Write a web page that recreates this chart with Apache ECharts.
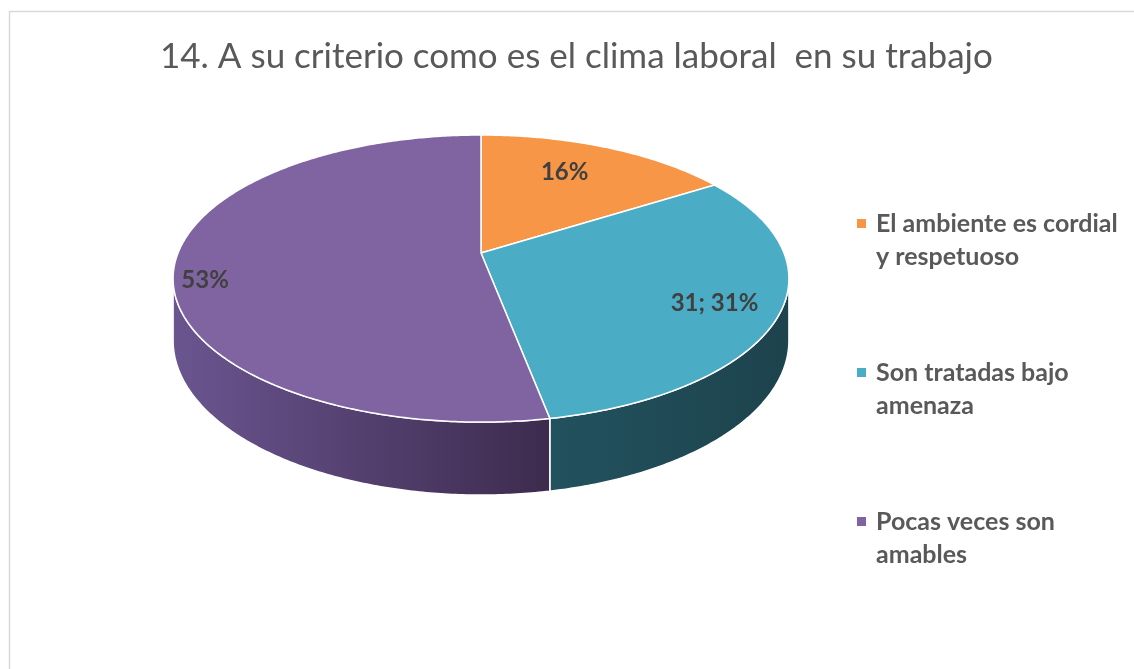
<!DOCTYPE html>
<html><head><meta charset="utf-8">
<script src="https://cdn.jsdelivr.net/npm/echarts@6/dist/echarts.min.js"></script>
<style>html,body{margin:0;padding:0;background:#fff}#c{width:1134px;height:669px}</style>
</head><body><div id="c"></div>
<script>
// ---- data ----
const titleText = '14. A su criterio como es el clima laboral  en su trabajo';
const categories = ['El ambiente es cordial\ny respetuoso', 'Son tratadas bajo\namenaza', 'Pocas veces son\namables'];
const values = [16, 31, 53];
const showValueInLabel = [false, true, false];

// ---- styles ----
const topColors = ['#F79646', '#4BACC6', '#8064A2'];
const sideColors = [['#b86a2c', '#8a4e1f'], ['#22525e', '#1d434d'], ['#6b5590', '#3d2b4e']];
const labelRadius = [0.72, 0.8, 0.9];
const labelAngleFrac = [0.44, 0.516, 0.465];
const CX = 481, CY = 253, RX = 303, RY = 139, P = 0.178, DEPTH = 60;

const total = values.reduce((a, b) => a + b, 0);
const starts = []; let acc = 0;
values.forEach(v => { starts.push(acc / total * 2 * Math.PI); acc += v; });
function proj(f, phi, dz) {
  const u = f * Math.sin(phi), v = f * Math.cos(phi);
  const s = 1 / (1 + P * v);
  return [CX + RX * u * s, CY - RY * v * s + DEPTH * s * dz];
}
const silA = Math.acos(-P), silB = 2 * Math.PI - silA;
function arcPts(a0, a1, dz) {
  const n = Math.max(2, Math.ceil((a1 - a0) / 0.01)); const pts = [];
  for (let i = 0; i <= n; i++) pts.push(proj(1, a0 + (a1 - a0) * i / n, dz));
  return pts;
}
function makeRender(idx) {
  return function (params, api) {
    const a0 = starts[idx], a1 = a0 + api.value(0) / total * 2 * Math.PI;
    const children = [];
    const s0 = Math.max(a0, silA), s1 = Math.min(a1, silB);
    if (s1 > s0) {
      const top = arcPts(s0, s1, 0), bot = arcPts(s0, s1, 1).reverse();
      children.push({ type: 'polygon', shape: { points: top.concat(bot) },
        style: { fill: new echarts.graphic.LinearGradient(0, 0, 1, 0, [{ offset: 0, color: sideColors[idx][0] }, { offset: 1, color: sideColors[idx][1] }]), stroke: '#ffffff', lineWidth: 1.5 }, z2: 1 });
    }
    children.push({ type: 'polygon', shape: { points: [[CX, CY]].concat(arcPts(a0, a1, 0)) },
      style: { fill: topColors[idx], stroke: '#ffffff', lineWidth: 1.5 }, z2: 2 });
    const lp = proj(labelRadius[idx], a0 + (a1 - a0) * labelAngleFrac[idx], 0);
    const pct = Math.round(api.value(0) / total * 100);
    children.push({ type: 'text', x: lp[0], y: lp[1], z2: 3,
      style: { text: showValueInLabel[idx] ? api.value(0) + '; ' + pct + '%' : pct + '%', fill: '#404040', font: 'bold 24px Lato', align: 'center', verticalAlign: 'middle' } });
    return { type: 'group', children };
  };
}

const chart = echarts.init(document.getElementById('c'));
chart.setOption({
  backgroundColor: '#ffffff',
  animation: false,
  title: { text: titleText, left: 155, top: 34, textStyle: { fontFamily: 'Lato', fontWeight: 'normal', fontSize: 35, color: '#595959' } },
  legend: {
    orient: 'vertical', left: 857, top: 174, padding: 0, itemGap: 50, itemWidth: 9, itemHeight: 9, icon: 'rect',
    data: categories,
    formatter: name => '\n' + name,
    textStyle: { fontFamily: 'Lato', fontWeight: 'bold', fontSize: 25, color: '#595959', lineHeight: 33, padding: [0, 0, 0, 5] }
  },
  graphic: [{ type: 'rect', shape: { x: 9.5, y: 11.5, width: 1200, height: 700 }, style: { fill: null, stroke: '#d9d9d9', lineWidth: 1.5 }, z: -10 }],
  series: categories.map((name, i) => ({
    type: 'custom', name, coordinateSystem: 'none', itemStyle: { color: topColors[i] },
    renderItem: makeRender(i), data: [[values[i]]]
  }))
});
</script></body></html>
